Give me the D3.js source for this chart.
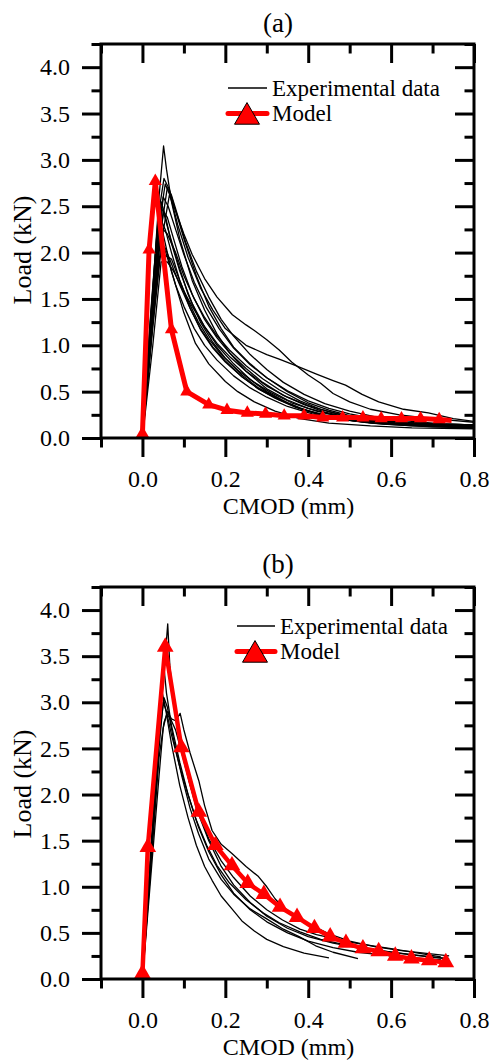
<!DOCTYPE html>
<meta charset="utf-8">
<head>
<script src="https://d3js.org/d3.v7.min.js"></script>
<style>
  body { margin: 0; background: #fff; }
  svg text { font-family: "Liberation Serif", "DejaVu Serif", "Times New Roman", serif; fill: #000; }
</style>
</head>
<body>
<script>

var width = 491, height = 1060;
var serif = '"Liberation Serif", "DejaVu Serif", "Times New Roman", serif';

// axis ticks
var xTicks = [0.0, 0.2, 0.4, 0.6, 0.8];
var xMinor = [-0.1, 0.1, 0.3, 0.5, 0.7];
var yTicks = [0.0, 0.5, 1.0, 1.5, 2.0, 2.5, 3.0, 3.5, 4.0];
var yMinor = [0.25, 0.75, 1.25, 1.75, 2.25, 2.75, 3.25, 3.75, 4.25];

var panelTitles = ["(a)", "(b)"];
var legendLabels = ["Experimental data", "Model"];
var xTitle = "CMOD (mm)";
var yTitle = "Load (kN)";

// (a) experimental curves, [CMOD, load]
var expA = [
  [[0,0],[0.02,1.25],[0.04,2.6],[0.051,3.15],[0.058,2.9],[0.07,2.55],[0.09,2.15],[0.12,1.7],[0.15,1.38],[0.18,1.12],[0.21,0.92],[0.25,0.72],[0.3,0.53],[0.35,0.41],[0.4,0.32],[0.45,0.26],[0.5,0.21],[0.58,0.17],[0.68,0.15],[0.8,0.13]],
  [[0,0],[0.02,1.2],[0.04,2.45],[0.052,2.8],[0.065,2.68],[0.08,2.45],[0.1,2.2],[0.12,1.98],[0.15,1.72],[0.18,1.52],[0.217,1.33],[0.25,1.22],[0.27,1.16],[0.3,1.06],[0.33,0.95],[0.36,0.82],[0.4,0.68],[0.43,0.59],[0.46,0.48],[0.5,0.39],[0.55,0.31],[0.62,0.25],[0.7,0.21],[0.8,0.17]],
  [[0,0],[0.02,1.1],[0.04,2.3],[0.055,2.74],[0.068,2.6],[0.085,2.3],[0.11,1.95],[0.14,1.62],[0.17,1.38],[0.2,1.18],[0.25,1.0],[0.3,0.9],[0.33,0.85],[0.37,0.78],[0.42,0.69],[0.46,0.62],[0.49,0.57],[0.53,0.47],[0.57,0.39],[0.63,0.31],[0.69,0.27],[0.75,0.21],[0.8,0.18]],
  [[0,0],[0.02,1.0],[0.045,2.1],[0.065,2.62],[0.08,2.45],[0.1,2.15],[0.13,1.75],[0.16,1.42],[0.19,1.18],[0.22,0.98],[0.26,0.8],[0.3,0.65],[0.35,0.5],[0.4,0.38],[0.45,0.3],[0.5,0.24],[0.56,0.19],[0.65,0.16],[0.8,0.14]],
  [[0,0],[0.02,1.3],[0.045,2.55],[0.055,2.4],[0.07,2.1],[0.09,1.8],[0.12,1.45],[0.15,1.2],[0.18,1.0],[0.22,0.8],[0.26,0.63],[0.3,0.5],[0.35,0.38],[0.4,0.29],[0.46,0.22],[0.52,0.18],[0.6,0.15],[0.7,0.13],[0.8,0.12]],
  [[0,0],[0.02,1.35],[0.04,2.5],[0.05,2.45],[0.065,2.2],[0.085,1.9],[0.11,1.55],[0.14,1.25],[0.17,1.03],[0.2,0.86],[0.24,0.68],[0.28,0.54],[0.33,0.42],[0.38,0.32],[0.44,0.24],[0.5,0.19],[0.58,0.15],[0.7,0.12],[0.8,0.11]],
  [[0,0],[0.025,1.3],[0.05,2.45],[0.06,2.38],[0.075,2.15],[0.095,1.85],[0.12,1.55],[0.15,1.28],[0.18,1.08],[0.21,0.92],[0.25,0.75],[0.29,0.6],[0.34,0.46],[0.39,0.36],[0.44,0.28],[0.5,0.22],[0.57,0.17],[0.66,0.14],[0.8,0.12]],
  [[0,0],[0.02,1.1],[0.045,2.35],[0.055,2.25],[0.07,2.0],[0.09,1.7],[0.115,1.4],[0.14,1.17],[0.17,0.97],[0.2,0.82],[0.24,0.66],[0.28,0.53],[0.32,0.43],[0.37,0.33],[0.42,0.26],[0.48,0.2],[0.55,0.16],[0.65,0.13],[0.8,0.11]],
  [[0,0],[0.02,1.2],[0.04,2.3],[0.05,2.2],[0.07,1.8],[0.1,1.35],[0.128,1.02],[0.16,0.8],[0.2,0.61],[0.23,0.5],[0.27,0.39],[0.32,0.29],[0.38,0.21],[0.45,0.16],[0.55,0.13],[0.65,0.11],[0.8,0.1]],
  [[0,0],[0.025,1.2],[0.05,2.25],[0.06,2.2],[0.08,2.0],[0.1,1.75],[0.125,1.5],[0.15,1.3],[0.18,1.1],[0.21,0.95],[0.25,0.78],[0.29,0.64],[0.33,0.52],[0.38,0.4],[0.43,0.31],[0.49,0.24],[0.56,0.19],[0.65,0.16],[0.8,0.14]],
  [[0,0],[0.02,1.1],[0.04,2.1],[0.055,2.05],[0.07,1.88],[0.09,1.65],[0.115,1.4],[0.14,1.18],[0.17,0.98],[0.2,0.83],[0.24,0.66],[0.28,0.53],[0.33,0.41],[0.38,0.32],[0.44,0.25],[0.5,0.2],[0.58,0.16],[0.68,0.13],[0.8,0.12]],
  [[0,0],[0.02,1.05],[0.04,1.95],[0.055,1.97],[0.07,1.93],[0.09,1.7],[0.11,1.48],[0.135,1.25],[0.16,1.07],[0.19,0.9],[0.23,0.73],[0.27,0.6],[0.31,0.49],[0.36,0.38],[0.42,0.29],[0.48,0.23],[0.56,0.18],[0.66,0.15],[0.8,0.13]],
  [[0,0],[0.025,1.0],[0.045,1.9],[0.06,1.9],[0.075,1.8],[0.095,1.62],[0.12,1.42],[0.15,1.2],[0.18,1.02],[0.21,0.88],[0.25,0.72],[0.3,0.56],[0.35,0.44],[0.4,0.35],[0.46,0.27],[0.52,0.21],[0.6,0.17],[0.7,0.14],[0.8,0.13]],
  [[0,0],[0.02,1.0],[0.04,2.1],[0.06,2.7],[0.07,2.62],[0.085,2.4],[0.105,2.1],[0.13,1.8],[0.16,1.52],[0.19,1.28],[0.22,1.1],[0.26,0.9],[0.3,0.74],[0.34,0.6],[0.39,0.47],[0.44,0.37],[0.5,0.29],[0.57,0.22],[0.65,0.18],[0.73,0.15],[0.8,0.14]],
  [[0,0],[0.018,1.2],[0.035,2.2],[0.045,2.15],[0.06,1.95],[0.08,1.65],[0.1,1.42],[0.125,1.18],[0.15,1.0],[0.18,0.84],[0.22,0.67],[0.26,0.54],[0.3,0.44],[0.35,0.34],[0.41,0.26],[0.48,0.2],[0.56,0.16],[0.66,0.14],[0.8,0.12]],
  [[0,0],[0.02,1.2],[0.05,2.6],[0.062,2.5],[0.08,2.25],[0.1,1.98],[0.125,1.68],[0.155,1.4],[0.185,1.18],[0.22,0.97],[0.26,0.79],[0.3,0.65],[0.35,0.51],[0.4,0.4],[0.45,0.32],[0.5,0.26],[0.56,0.21],[0.64,0.17],[0.72,0.15],[0.8,0.14]]
];

// (a) model points (markers) and the last point of the line
var modelA = [[0,0.05],[0.016,2.03],[0.031,2.77],[0.07,1.17],[0.107,0.5],[0.16,0.36],[0.204,0.3],[0.253,0.27],[0.297,0.26],[0.342,0.24],[0.39,0.24],[0.435,0.22],[0.483,0.22],[0.532,0.22],[0.576,0.21],[0.625,0.21],[0.671,0.21],[0.716,0.2]];
var modelATail = [0.746, 0.19];

// (b) experimental curves
var expB = [
  [[0,0],[0.02,1.3],[0.04,2.7],[0.055,3.5],[0.061,3.85],[0.066,3.4],[0.075,3.0],[0.09,2.6],[0.11,2.2],[0.13,1.85],[0.16,1.5],[0.19,1.22],[0.22,1.02],[0.26,0.83],[0.3,0.68],[0.35,0.55],[0.4,0.46],[0.46,0.39],[0.52,0.34],[0.6,0.29],[0.67,0.25],[0.73,0.22]],
  [[0,0],[0.02,1.3],[0.04,2.7],[0.051,3.42],[0.058,3.1],[0.07,2.75],[0.09,2.35],[0.11,2.0],[0.135,1.65],[0.16,1.38],[0.19,1.13],[0.22,0.93],[0.26,0.75],[0.3,0.62],[0.35,0.5],[0.4,0.41],[0.46,0.34],[0.52,0.29],[0.6,0.25],[0.68,0.22],[0.72,0.21]],
  [[0,0],[0.02,1.4],[0.038,2.6],[0.047,3.12],[0.055,2.95],[0.07,2.55],[0.09,2.1],[0.11,1.75],[0.13,1.45],[0.15,1.22],[0.168,1.07],[0.19,0.9],[0.216,0.76],[0.24,0.63],[0.27,0.52],[0.3,0.43],[0.34,0.35],[0.39,0.28],[0.45,0.23]],
  [[0,0],[0.02,1.3],[0.04,2.6],[0.052,3.05],[0.06,2.95],[0.075,2.6],[0.095,2.2],[0.115,1.85],[0.135,1.58],[0.16,1.3],[0.19,1.08],[0.22,0.92],[0.26,0.76],[0.297,0.66],[0.34,0.54],[0.378,0.46],[0.418,0.36],[0.46,0.29],[0.52,0.22]],
  [[0,0],[0.02,1.2],[0.04,2.4],[0.052,2.78],[0.059,2.87],[0.068,2.82],[0.08,2.7],[0.095,2.45],[0.115,2.1],[0.136,1.8],[0.16,1.52],[0.19,1.28],[0.22,1.1],[0.26,0.9],[0.3,0.75],[0.338,0.64],[0.38,0.54],[0.42,0.48],[0.46,0.44],[0.5,0.4],[0.54,0.37],[0.6,0.33],[0.64,0.3],[0.68,0.27],[0.72,0.24]],
  [[0,0],[0.02,1.1],[0.04,2.2],[0.05,2.72],[0.06,2.9],[0.07,2.82],[0.08,2.8],[0.091,2.88],[0.1,2.7],[0.115,2.45],[0.136,2.15],[0.15,1.88],[0.168,1.61],[0.19,1.46],[0.216,1.36],[0.25,1.22],[0.28,1.11],[0.3,1.0],[0.32,0.87],[0.35,0.72],[0.4,0.6],[0.45,0.49],[0.5,0.41],[0.56,0.35],[0.62,0.31],[0.68,0.28],[0.74,0.25]],
  [[0,0],[0.02,1.25],[0.04,2.5],[0.05,3.0],[0.058,2.9],[0.07,2.65],[0.09,2.3],[0.11,2.0],[0.13,1.72],[0.155,1.45],[0.18,1.23],[0.21,1.04],[0.25,0.86],[0.29,0.72],[0.33,0.61],[0.38,0.51],[0.43,0.43],[0.5,0.36],[0.57,0.31],[0.64,0.27],[0.7,0.24],[0.74,0.22]]
];

// (b) model points
var modelB = [[0,0.06],[0.013,1.43],[0.055,3.6],[0.094,2.51],[0.136,1.81],[0.176,1.45],[0.216,1.23],[0.254,1.04],[0.293,0.92],[0.332,0.78],[0.373,0.67],[0.415,0.55],[0.453,0.46],[0.491,0.39],[0.532,0.33],[0.57,0.3],[0.61,0.25],[0.649,0.22],[0.692,0.2],[0.732,0.18]];
var modelBTail = null;

var panels = [
  {title: panelTitles[0], top: 44, bottom: 438, exp: expA, model: modelA, tail: modelATail,
   lineW: 5, markSize: 75, titleY: 32, yTitleY: 250,
   legY: 88, legX0: 228, legX1: 267, legTri: 247},
  {title: panelTitles[1], top: 587, bottom: 979, exp: expB, model: modelB, tail: modelBTail,
   lineW: 4.5, markSize: 120, titleY: 573, yTitleY: 784,
   legY: 626, legX0: 237, legX1: 275, legTri: 255}
];

var left = 101, right = 474;

var svg = d3.select("body").append("svg")
  .attr("width", width)
  .attr("height", height)
  .attr("font-family", serif);

panels.forEach(drawPanel);

function drawPanel(p, i) {
  var x = d3.scaleLinear().domain([-0.1, 0.8]).range([left, right]);
  var y = d3.scaleLinear().domain([0, 4.25]).range([p.bottom, p.top]);

  var g = svg.append("g");

  var clipId = "clip" + i;
  g.append("clipPath").attr("id", clipId)
    .append("rect")
    .attr("x", left).attr("y", p.top)
    .attr("width", right - left).attr("height", p.bottom - p.top);

  var line = d3.line()
    .x(function(d) { return x(d[0]); })
    .y(function(d) { return y(d[1]); });

  // experimental curves
  g.append("g").attr("clip-path", "url(#" + clipId + ")")
    .selectAll("path")
    .data(p.exp)
    .enter().append("path")
    .attr("d", line)
    .attr("fill", "none")
    .attr("stroke", "#000")
    .attr("stroke-width", 1.3)
    .attr("stroke-linejoin", "round");

  // model line + markers
  var modelLine = p.tail ? p.model.concat([p.tail]) : p.model;
  g.append("path")
    .attr("d", line(modelLine))
    .attr("fill", "none")
    .attr("stroke", "#ff0000")
    .attr("stroke-width", p.lineW)
    .attr("stroke-linejoin", "round");

  var tri = d3.symbol().type(d3.symbolTriangle).size(p.markSize);
  g.selectAll(".mk")
    .data(p.model)
    .enter().append("path")
    .attr("class", "mk")
    .attr("d", tri)
    .attr("transform", function(d) { return "translate(" + x(d[0]) + "," + y(d[1]) + ")"; })
    .attr("fill", "#ff0000");

  // axes
  var big = 19, small = 9.5;
  function styleAxis(sel) {
    sel.attr("font-family", serif);
    sel.select(".domain").remove();
    sel.selectAll(".tick line").attr("stroke", "#000").attr("stroke-width", 3);
    sel.selectAll("text").attr("font-size", 24).attr("fill", "#000")
      .style("font-family", serif);
  }

  g.append("g").attr("transform", "translate(0," + p.bottom + ")")
    .call(d3.axisBottom(x).tickValues(xTicks).tickSize(big).tickPadding(13).tickFormat(d3.format(".1f")))
    .call(styleAxis);
  g.append("g").attr("transform", "translate(0," + p.bottom + ")")
    .call(d3.axisBottom(x).tickValues(xMinor).tickSize(small).tickFormat(""))
    .call(styleAxis);
  g.append("g").attr("transform", "translate(0," + p.top + ")")
    .call(d3.axisTop(x).tickValues(xTicks).tickSize(-big).tickFormat(""))
    .call(styleAxis);
  g.append("g").attr("transform", "translate(0," + p.top + ")")
    .call(d3.axisTop(x).tickValues(xMinor).tickSize(-small).tickFormat(""))
    .call(styleAxis);

  g.append("g").attr("transform", "translate(" + left + ",0)")
    .call(d3.axisLeft(y).tickValues(yTicks).tickSize(big).tickPadding(12).tickFormat(d3.format(".1f")))
    .call(styleAxis);
  g.append("g").attr("transform", "translate(" + left + ",0)")
    .call(d3.axisLeft(y).tickValues(yMinor).tickSize(small).tickFormat(""))
    .call(styleAxis);
  g.append("g").attr("transform", "translate(" + right + ",0)")
    .call(d3.axisRight(y).tickValues(yTicks).tickSize(-big).tickFormat(""))
    .call(styleAxis);
  g.append("g").attr("transform", "translate(" + right + ",0)")
    .call(d3.axisRight(y).tickValues(yMinor).tickSize(-small).tickFormat(""))
    .call(styleAxis);

  // frame
  g.append("rect")
    .attr("x", left).attr("y", p.top)
    .attr("width", right - left).attr("height", p.bottom - p.top)
    .attr("fill", "none")
    .attr("stroke", "#000")
    .attr("stroke-width", 3);

  // titles
  g.append("text")
    .attr("x", 278).attr("y", p.titleY)
    .attr("text-anchor", "middle")
    .attr("font-size", 27)
    .text(p.title);

  g.append("text")
    .attr("x", (left + right) / 2 + 1).attr("y", p.bottom + 75.5)
    .attr("text-anchor", "middle")
    .attr("font-size", 24)
    .text(xTitle);

  g.append("text")
    .attr("transform", "translate(31," + p.yTitleY + ") rotate(-90)")
    .attr("text-anchor", "middle")
    .attr("font-size", 26)
    .text(yTitle);

  // legend
  var fs = 23, gap = 25.5;
  g.append("line")
    .attr("x1", p.legX0).attr("x2", p.legX1)
    .attr("y1", p.legY).attr("y2", p.legY)
    .attr("stroke", "#000").attr("stroke-width", 1.3);
  g.append("text")
    .attr("x", p.legX1 + 5).attr("y", p.legY + 7.5)
    .attr("font-size", fs)
    .text(legendLabels[0]);

  var ly = p.legY + gap;
  g.append("line")
    .attr("x1", p.legX0).attr("x2", p.legX1)
    .attr("y1", ly).attr("y2", ly)
    .attr("stroke", "#ff0000").attr("stroke-width", 5)
    .attr("stroke-linecap", "round");
  g.append("path")
    .attr("d", d3.symbol().type(d3.symbolTriangle).size(270)())
    .attr("transform", "translate(" + p.legTri + "," + (ly + 3.5) + ")")
    .attr("fill", "#ff0000")
    .attr("stroke", "#000")
    .attr("stroke-width", 1);
  g.append("text")
    .attr("x", p.legX1 + 5).attr("y", ly + 7.5)
    .attr("font-size", fs)
    .text(legendLabels[1]);
}

</script>
</body>
